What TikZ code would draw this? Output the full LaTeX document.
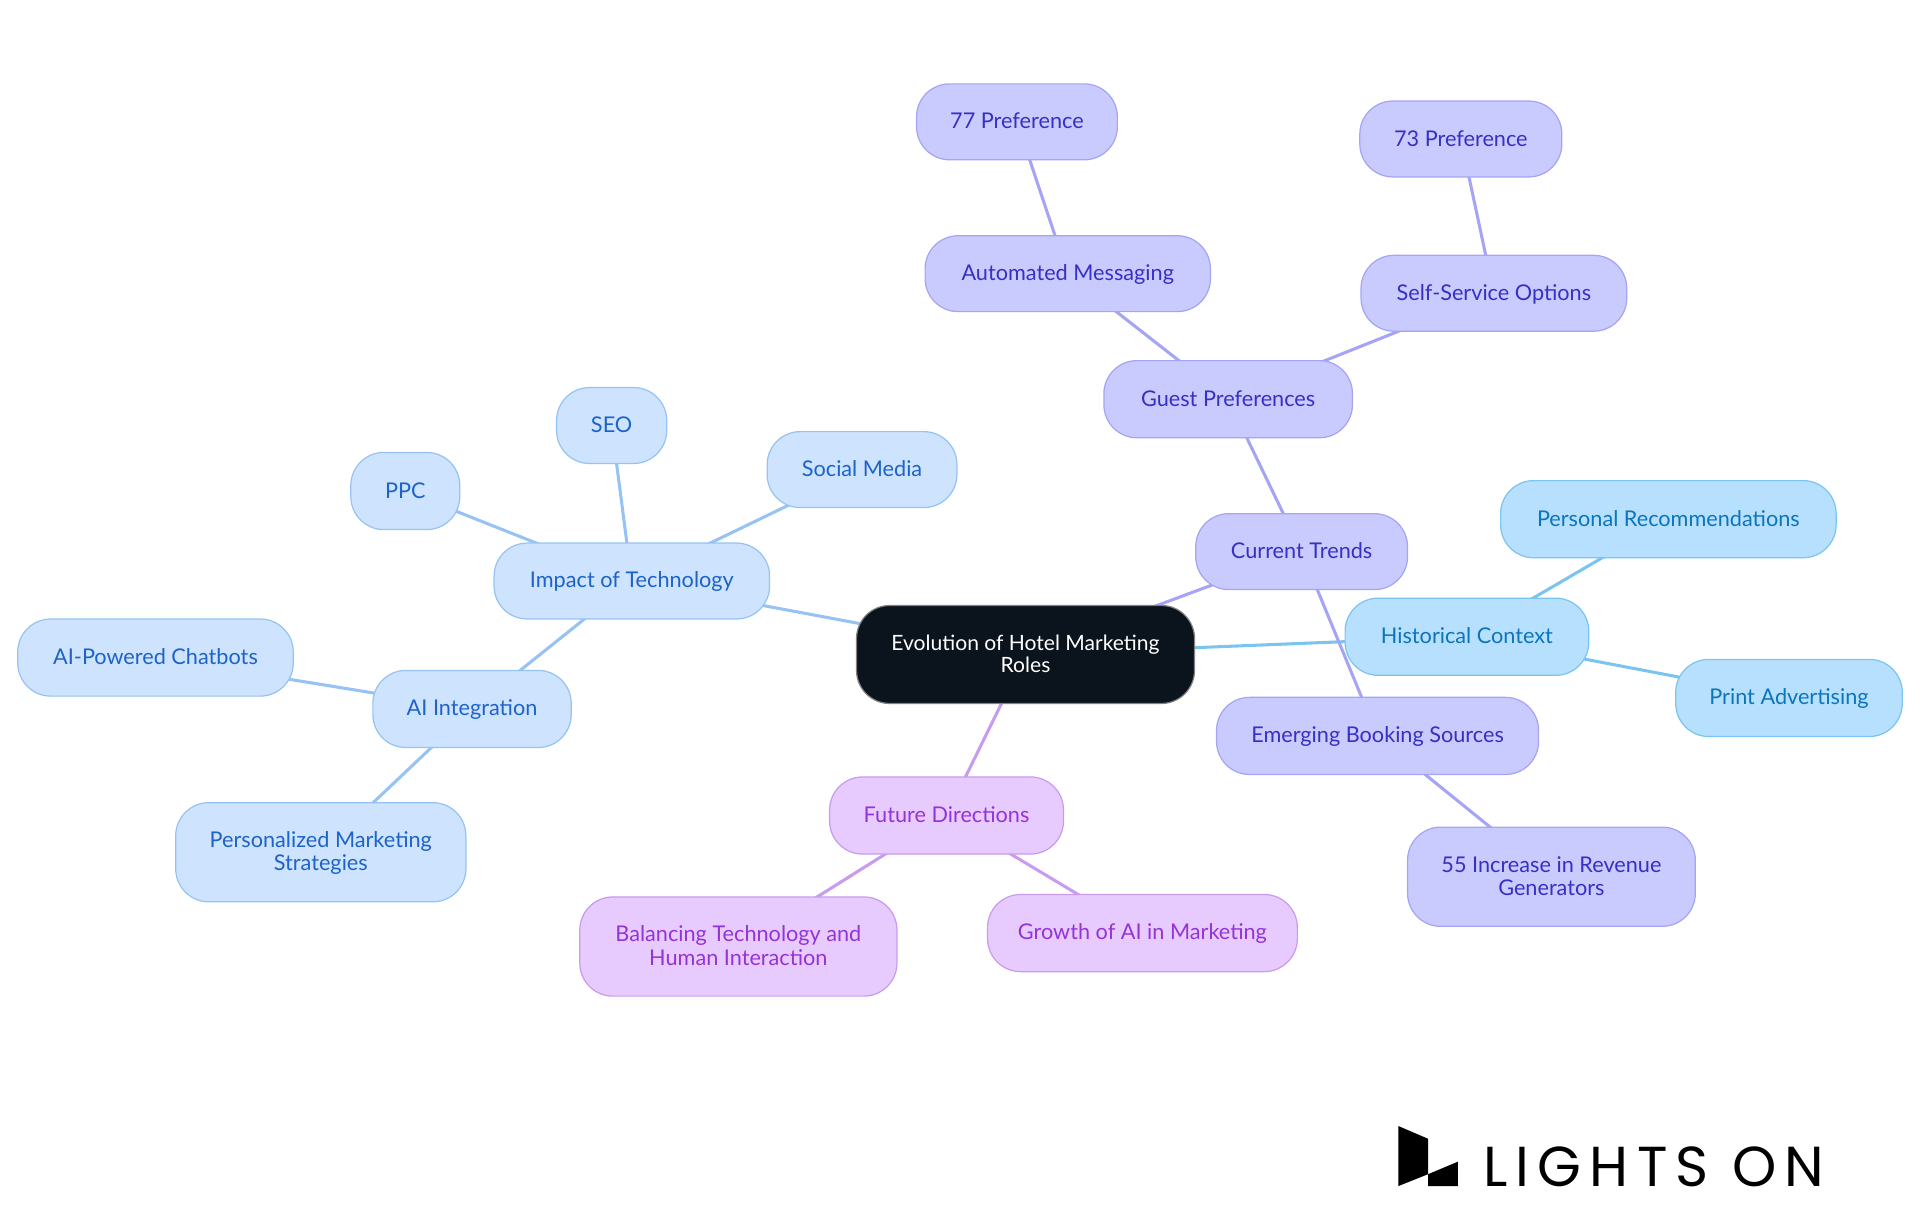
\documentclass[tikz,border=0pt]{standalone}
\usepackage{fontspec}
\setmainfont{Lato}
\newfontfamily\logofont[LetterSpace=14.7]{Poppins}
\usetikzlibrary{backgrounds}
\definecolor{skyF}{HTML}{B6E0FE}\definecolor{skyD}{HTML}{7CC4F0}\definecolor{skyT}{HTML}{0B75BD}
\definecolor{indF}{HTML}{C9CAFE}\definecolor{indD}{HTML}{A5A4F5}\definecolor{indT}{HTML}{3730C4}
\definecolor{purF}{HTML}{E8CBFE}\definecolor{purD}{HTML}{C89BF0}\definecolor{purT}{HTML}{9333D8}
\definecolor{bluF}{HTML}{CEE3FD}\definecolor{bluD}{HTML}{96C3F3}\definecolor{bluT}{HTML}{1D63C8}
\definecolor{rootF}{HTML}{0B131C}
\newcommand{\st}{\rule{0pt}{14.5pt}\rule[-3pt]{0pt}{3pt}}
\tikzset{x=1pt,y=-1pt,
 box/.style={rounded corners=27pt,line width=1pt,inner sep=0pt,align=center,font=\fontsize{17.7}{19}\selectfont},
 sky/.style={box,fill=skyF,draw=skyD,text=skyT},
 ind/.style={box,fill=indF,draw=indD,text=indT},
 pur/.style={box,fill=purF,draw=purD,text=purT},
 blu/.style={box,fill=bluF,draw=bluD,text=bluT},
 rootbox/.style={box,fill=rootF,draw=gray,text=white,font=\fontsize{17.2}{18}\selectfont},
 link/.style={line width=2.5pt}
}
\newcommand{\nb}[7]{\node[#1,minimum width=#5pt-#3pt-1pt,minimum height=#6pt-#4pt-1pt] (#2) at ({(#3+#5)/2},{(#4+#6)/2}) {#7};}
\begin{document}
\begin{tikzpicture}
\useasboundingbox (0,0) rectangle (1568,992.25);
\nb{rootbox}{root}{699}{494}{976}{575}{\st Evolution of Hotel Marketing\\\st Roles}
\nb{ind}{cur}{976}{419}{1150}{482}{\st Current Trends}
\nb{ind}{gue}{901}{294}{1105}{358}{\st Guest Preferences}
\nb{ind}{aut}{755}{192}{989}{255}{\st Automated Messaging}
\nb{ind}{sevsev}{748}{68}{913}{131}{\st 77 Preference}
\nb{ind}{sel}{1111}{208}{1329}{271}{\st Self-Service Options}
\nb{ind}{sevthr}{1110}{82}{1276}{145}{\st 73 Preference}
\nb{ind}{eme}{993}{569}{1257}{633}{\st Emerging Booking Sources}
\nb{ind}{fif}{1149}{675}{1385}{757}{\st 55 Increase in Revenue\\\st Generators}
\nb{sky}{his}{1098}{488}{1298}{552}{\st Historical Context}
\nb{sky}{per}{1225}{392}{1500}{456}{\st Personal Recommendations}
\nb{sky}{pri}{1368}{538}{1554}{602}{\st Print Advertising}
\nb{blu}{imp}{403}{443}{629}{506}{\st Impact of Technology}
\nb{blu}{seo}{454}{316}{545}{379}{\st SEO}
\nb{blu}{ppc}{286}{369}{376}{433}{\st PPC}
\nb{blu}{soc}{626}{352}{782}{415}{\st Social Media}
\nb{blu}{ai}{304}{547}{467}{611}{\st AI Integration}
\nb{blu}{cha}{14}{505}{240}{569}{\st AI-Powered Chatbots}
\nb{blu}{pem}{143}{655}{381}{737}{\st Personalized Marketing\\\st Strategies}
\nb{pur}{fut}{677}{634}{869}{698}{\st Future Directions}
\nb{pur}{bal}{473}{732}{733}{814}{\st Balancing Technology and\\\st Human Interaction}
\nb{pur}{gro}{806}{730}{1060}{794}{\st Growth of AI in Marketing}
\begin{scope}[on background layer]
\draw[link,skyD] (root.center)--(his.center) (his.center)--(per.center) (his.center)--(pri.center);
\draw[link,indD] (root.center)--(cur.center) (cur.center)--(gue.center) (cur.center)--(eme.center)
 (gue.center)--(aut.center) (gue.center)--(sel.center) (aut.center)--(sevsev.center) (sel.center)--(sevthr.center) (eme.center)--(fif.center);
\draw[link,bluD] (root.center)--(imp.center) (imp.center)--(seo.center) (imp.center)--(ppc.center) (imp.center)--(soc.center)
 (imp.center)--(ai.center) (ai.center)--(cha.center) (ai.center)--(pem.center);
\draw[link,purD] (root.center)--(fut.center) (fut.center)--(bal.center) (fut.center)--(gro.center);
\end{scope}
\fill[black] (1142,919.6)--(1166.3,930)--(1166.3,958.9)--(1142,968.6)--cycle;
\fill[black] (1166.3,958.9)--(1190.6,948.7)--(1190.6,968.6)--(1166.3,968.6)--cycle;
\node[anchor=base west,inner sep=0pt,font=\logofont\fontsize{46}{46}\selectfont] (logo) at (1211,968.6) {LIGHTS ON};
\end{tikzpicture}
\end{document}
